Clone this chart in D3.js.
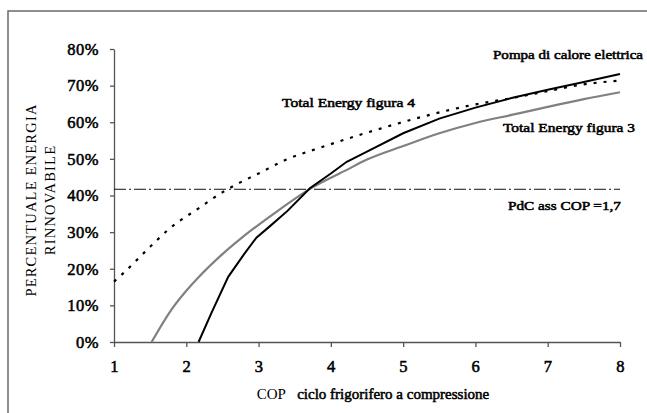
<!DOCTYPE html>
<html><head><meta charset="utf-8">
<script src="https://cdn.jsdelivr.net/npm/d3@7"></script>
<style>
body{margin:0;background:#fff;}
svg{display:block;font-family:"Liberation Serif","Times New Roman",serif;}
.fb{stroke:#000;stroke-width:0.55px;font-weight:normal;}
</style></head>
<body><svg id="c" width="647" height="413"></svg>
<script>
// Data
const xTicks = [1,2,3,4,5,6,7,8];
const yTicks = [0,10,20,30,40,50,60,70,80];
const pompaCop = [2.17,2.35,2.58,2.8,2.97,3.15,3.4,3.71,4.0,4.22,4.5,5.0,5.5,6.0,6.5,7.0,7.5,8.0];
const pompaVal = [0,8,17.8,24,28.5,31.5,35.8,42,46,49.2,52,57,61,64,66.6,68.9,71,73.2];
const te3Cop = [1.52,1.8,2.0,2.16,2.5,2.77,3.0,3.3,3.71,4.22,4.5,5.0,5.5,6.0,6.5,7.0,7.5,8.0];
const te3Val = [0,9,14,17.5,24,28.5,32,36.3,41.8,47,49.8,53.5,57,59.8,62,64.2,66.3,68.2];
const te4Cop = [1.0,1.13,1.5,1.77,2.17,2.51,2.69,3.0,3.37,3.89,4.54,5.19,5.88,6.5,7.0,7.45,8.0];
const te4Val = [16.5,18.8,26,31,36.5,41,43,46,49.7,53.3,57.4,61.1,64.4,66.6,68.5,70.2,71.4];
const pdcVal = 41.7;
const labels = {
  pompa: "Pompa di calore elettrica",
  te4: "Total Energy figura 4",
  te3: "Total Energy figura 3",
  pdc: "PdC ass COP =1,7"
};

const svg = d3.select("#c");
svg.append("rect").attr("x",8).attr("y",11).attr("width",700).attr("height",500)
  .attr("fill","none").attr("stroke","#6a6a6a").attr("stroke-width",1.5);

const x = d3.scaleLinear().domain([1,8]).range([114,620]);
const y = d3.scaleLinear().domain([0,80]).range([342,49]);

const gy = svg.append("g").attr("transform","translate(114,0)")
  .call(d3.axisLeft(y).tickValues(yTicks).tickFormat(d=>d+"%").tickSize(4).tickSizeOuter(0).tickPadding(11));
const gx = svg.append("g").attr("transform","translate(0,342)")
  .call(d3.axisBottom(x).tickValues(xTicks).tickFormat(d3.format("d")).tickSize(5).tickSizeOuter(0).tickPadding(13));
[gy,gx].forEach(g=>{
  g.selectAll("path,line").attr("stroke","#555").attr("stroke-width",1.3);
  g.selectAll("text").attr("font-family","Liberation Serif, Times New Roman, serif").attr("class","fb")
   .attr("font-size",16.5).attr("fill","#000").style("letter-spacing","0.5px");
});

svg.append("line").attr("x1",x(1)).attr("x2",x(8)).attr("y1",y(pdcVal)).attr("y2",y(pdcVal))
  .attr("stroke","#111").attr("stroke-width",1).attr("stroke-dasharray","12,3,2,3");

function draw(cops, vals, opts){
  const pts = cops.map((c,i)=>[c,vals[i]]);
  const line = d3.line().x(d=>x(d[0])).y(d=>y(d[1])).curve(opts.curve||d3.curveMonotoneX);
  svg.append("path").datum(pts).attr("d",line).attr("fill","none")
    .attr("stroke",opts.color).attr("stroke-width",opts.width)
    .attr("stroke-dasharray",opts.dash||null);
}
draw(te3Cop, te3Val, {color:"#808080", width:2.2});
draw(te4Cop, te4Val, {color:"#000", width:2.2, dash:"3,7"});
draw(pompaCop, pompaVal, {color:"#000", width:2, curve:d3.curveLinear});

function note(txt, xx, yy, w){
  svg.append("text").attr("x",xx).attr("y",yy).attr("class","fb")
    .attr("font-size",13).attr("fill","#000").attr("textLength",w).attr("lengthAdjust","spacingAndGlyphs").text(txt);
}
note(labels.pompa, 493, 59, 150);
note(labels.te4, 282, 107, 133);
note(labels.te3, 503, 132, 132);
note(labels.pdc, 508, 210, 113);

const xt = svg.append("text").attr("x",373).attr("y",399).attr("text-anchor","middle")
  .attr("font-size",15).attr("fill","#000");
xt.append("tspan").text("COP\u00a0\u00a0 ");
xt.append("tspan").attr("class","fb").text("ciclo frigorifero a compressione");

const yt = svg.append("text").attr("transform","translate(36,200) rotate(-90)")
  .attr("text-anchor","middle").attr("font-size",14.5).attr("letter-spacing",1.2).attr("fill","#000");
yt.append("tspan").attr("x",0).attr("y",0).text("PERCENTUALE ENERGIA");
yt.append("tspan").attr("x",0).attr("y",19).text("RINNOVABILE");
</script></body></html>
